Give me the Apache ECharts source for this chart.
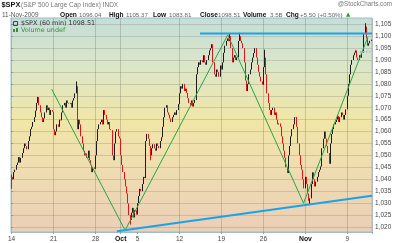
<!DOCTYPE html>
<html><head><meta charset="utf-8">
<script src="https://cdn.jsdelivr.net/npm/echarts@6/dist/echarts.min.js"></script>
<style>html,body{margin:0;padding:0;background:#fff}#c{width:400px;height:243px}</style>
</head><body><div id="c"></div>
<script>
// ---- data ----
const tradingDays = ['Sep 14','Sep 15','Sep 16','Sep 17','Sep 18','Sep 21','Sep 22','Sep 23','Sep 24','Sep 25',
  'Sep 28','Sep 29','Sep 30','Oct 1','Oct 2','Oct 5','Oct 6','Oct 7','Oct 8','Oct 9','Oct 12','Oct 13','Oct 14',
  'Oct 15','Oct 16','Oct 19','Oct 20','Oct 21','Oct 22','Oct 23','Oct 26','Oct 27','Oct 28','Oct 29','Oct 30',
  'Nov 2','Nov 3','Nov 4','Nov 5','Nov 6','Nov 9','Nov 10','Nov 11'];
const hours = ['09:30','10:30','11:30','12:30','13:30','14:30','15:30'];
const firstOpen = 1042;
const hourlyCloses = [
  [1041,1040,1043,1044,1046,1047,1049.3],
  [1047,1049,1051,1053,1055,1054,1052.6],
  [1056,1058,1061,1062,1064,1066,1068.8],
  [1072,1074.5,1071,1068,1066,1064,1065.5],
  [1068,1071,1069,1070,1067,1069,1068.3],
  [1061,1058.5,1060,1063,1062,1065,1064.7],
  [1068,1071,1072,1070,1073,1072,1071.7],
  [1072,1070,1073,1074,1076,1079,1061],
  [1065,1063,1058,1055,1052,1050,1050.8],
  [1049,1052,1048,1046,1043,1045,1044.4],
  [1050,1056,1061,1063,1064,1065,1063],
  [1069,1067,1065,1063,1064,1061,1060.6],
  [1050,1048,1055,1060,1061,1058,1057.1],
  [1050,1046,1043,1040,1037,1034,1029.9],
  [1025,1023,1026,1028,1024,1027,1025.2],
  [1030,1033,1036,1035,1038,1041,1040.5],
  [1056,1059,1057,1054,1050,1053,1054.7],
  [1053,1052,1055,1054,1053,1056,1057.6],
  [1062,1066,1070,1071,1068,1067,1065.5],
  [1064,1066,1067,1068,1067,1069,1071.5],
  [1076,1079,1078,1080,1077,1078,1076.2],
  [1074,1072,1071,1073,1070.5,1072,1073.2],
  [1084,1087,1089,1088,1090,1089,1092],
  [1089,1088,1090,1092,1094,1095,1096.6],
  [1089,1084,1083,1086,1085,1083,1087.7],
  [1086,1089,1093,1096,1098,1099,1097.9],
  [1100,1095,1089,1091,1092,1090,1091.1],
  [1098,1100,1098,1097,1095,1089,1081.4],
  [1077,1080,1084,1086,1089,1091,1092.9],
  [1095,1091,1088,1085,1083,1081,1079.6],
  [1087,1091,1084,1076,1072,1069,1067],
  [1069,1070,1067,1068,1065,1063,1063.4],
  [1062,1058,1055,1052,1049,1045,1042.6],
  [1050,1054,1058,1061,1063,1066,1066.1],
  [1062,1055,1050,1046,1044,1040,1036.2],
  [1041,1038,1034,1031,1032,1038,1042.9],
  [1040,1037,1039,1041,1043,1044,1045.4],
  [1053,1057,1060,1057,1054,1051,1046.5],
  [1055,1059,1061,1063,1064,1065,1066.6],
  [1064,1066,1068,1067,1065,1067,1069.3],
  [1075,1080,1084,1088,1090,1092,1093.1],
  [1094,1091,1090,1092,1091,1093,1093],
  [1101,1104,1099,1096,1097,1098,1098.5]
];
const spikeHighs = [[54,1081],[182,1101],[190,1101.4],[211,1094.3],[295,1105.4]];
const spikeLows = [[0,1036],[99,1021],[116,1048],[249,1029.5]];
const xTickLabels = {'Sep 14':'14','Sep 21':'21','Sep 28':'28','Oct 1':'Oct','Oct 5':'5','Oct 12':'12',
  'Oct 19':'19','Oct 26':'26','Nov 2':'Nov','Nov 9':'9'};
const gridDays = ['Sep 21','Sep 28','Oct 1','Oct 12','Oct 19','Oct 26','Nov 2','Nov 9'];
const yTicks = [1020,1025,1030,1035,1040,1045,1050,1055,1060,1065,1070,1075,1080,1085,1090,1095,1100,1105];
// trend lines, x in bar units
const greenTrend = [[33.9,1077.8],[95.1,1018.6],[180.7,1100.5],[243.9,1030],[297.7,1099.8]];
const blueSupport = [[88.4,1018.2],[301,1033.1]];
const blueResistance = [[157.6,1101.1],[301,1101.1]];
const lastPriceMarker = [[291,1093.5],[301,1093.5]];

// ---- build ----
const categories = [];
const candles = [];
let prev = firstOpen;
tradingDays.forEach((d, di) => {
  hours.forEach((h, hi) => {
    categories.push(d + ' ' + h);
    const c = hourlyCloses[di][hi];
    candles.push([prev, c, Math.min(prev, c), Math.max(prev, c)]);
    prev = c;
  });
});
spikeHighs.forEach(([i, v]) => { candles[i][3] = Math.max(candles[i][3], v); });
spikeLows.forEach(([i, v]) => { candles[i][2] = Math.min(candles[i][2], v); });
const nBars = categories.length;
const dayOf = v => v.slice(0, v.lastIndexOf(' '));
const isDayStart = v => v.endsWith(hours[0]);

const chart = echarts.init(document.getElementById('c'), null, {renderer: 'canvas'});
const F = '"Liberation Sans", Arial, sans-serif';
function txt(x, y, text, font, fill, align) {
  return {type: 'text', x: x, y: y, silent: true, z: 100,
    style: {text: text, font: font, fill: fill, align: align || 'left', verticalAlign: 'middle'}};
}
const graphics = [
  txt(1.5, 5, '$SPX', 'bold 7.4px ' + F, '#111'),
  txt(21, 5.5, '(S&P 500 Large Cap Index) INDX', '6.5px ' + F, '#777'),
  txt(392, 4.5, '@StockCharts.com', '6.3px ' + F, '#777', 'right'),
  txt(2, 15, '11-Nov-2009', '6.4px ' + F, '#555'),
  txt(60, 15, 'Open', 'bold 6.6px ' + F, '#111'),
  txt(79, 15, '1096.04', '6.2px ' + F, '#666'),
  txt(109, 15, 'High', 'bold 6.6px ' + F, '#111'),
  txt(126, 15, '1105.37', '6.2px ' + F, '#666'),
  txt(153, 15, 'Low', 'bold 6.6px ' + F, '#111'),
  txt(169, 15, '1083.81', '6.2px ' + F, '#666'),
  txt(200, 15, 'Close', 'bold 6.6px ' + F, '#111'),
  txt(218, 15, '1098.51', '6.2px ' + F, '#666'),
  txt(243, 15, 'Volume', 'bold 6.6px ' + F, '#111'),
  txt(270, 15, '3.5B', '6.2px ' + F, '#666'),
  txt(286, 15, 'Chg', 'bold 6.6px ' + F, '#111'),
  txt(300, 15, '+5.50 (+0.50%)', '6.2px ' + F, '#666'),
  txt(346, 15, '\u25B2', '5.5px "DejaVu Sans"', '#2a9a2a'),
  txt(21, 23.5, '$SPX (60 min) 1098.51', '6.4px "DejaVu Sans"', '#333'),
  txt(21, 30.5, 'Volume undef', '6.4px "DejaVu Sans"', '#3c8c3c'),
  {type: 'rect', silent: true, z: 100, shape: {x: 13.5, y: 21.5, width: 4, height: 4}, style: {fill: 'none', stroke: '#444', lineWidth: 1}},
  {type: 'rect', silent: true, z: 100, shape: {x: 13, y: 29, width: 2, height: 3}, style: {fill: '#3c8c3c'}},
  {type: 'rect', silent: true, z: 100, shape: {x: 16, y: 28, width: 2, height: 4}, style: {fill: '#3c8c3c'}}
];

chart.setOption({
  animation: false,
  backgroundColor: '#fff',
  graphic: graphics,
  grid: {left: 11, right: 28, top: 18, bottom: 11, show: true,
    backgroundColor: new echarts.graphic.LinearGradient(0, 0, 0, 1, [
      {offset: 0, color: '#c4ded8'}, {offset: 0.22, color: '#dbe6c8'},
      {offset: 0.48, color: '#f1e6a8'}, {offset: 0.72, color: '#efdcb2'}, {offset: 1, color: '#ebcfb6'}]),
    borderColor: '#9fbccc', borderWidth: 1},
  xAxis: [{
    type: 'category', data: categories, boundaryGap: true,
    axisLine: {lineStyle: {color: '#9fbccc'}},
    axisTick: {show: true, length: 2, interval: (i, v) => isDayStart(v) && xTickLabels[dayOf(v)] !== undefined,
      lineStyle: {color: '#8aa'}},
    axisLabel: {interval: (i, v) => isDayStart(v) && xTickLabels[dayOf(v)] !== undefined,
      formatter: v => { const l = xTickLabels[dayOf(v)]; return (l === 'Oct' || l === 'Nov') ? '{b|' + l + '}' : l; },
      fontSize: 6.5, fontFamily: F, color: '#444', margin: 4,
      rich: {b: {fontWeight: 'bold', fontSize: 6.8, fontFamily: F, color: '#111'}}},
    splitLine: {show: true, interval: (i, v) => isDayStart(v) && gridDays.includes(dayOf(v)),
      lineStyle: {color: 'rgba(110,110,100,0.3)', width: 1}}
  }, {
    type: 'value', min: 0, max: nBars, show: false
  }],
  yAxis: {
    type: 'value', position: 'right', min: 1017.9, max: 1107.6,
    axisLine: {show: true, lineStyle: {color: '#9fbccc'}},
    axisTick: {show: true, length: 2, customValues: yTicks, lineStyle: {color: '#8aa'}},
    axisLabel: {customValues: yTicks, fontSize: 6.5, fontFamily: F, color: '#444', margin: 3},
    splitLine: {show: false}
  },
  series: [
    {type: 'line', xAxisIndex: 1, data: [], z: 1, silent: true,
      markLine: {silent: true, symbol: ['none', 'none'], label: {show: false},
        lineStyle: {color: 'rgba(110,110,100,0.25)', width: 1, type: 'solid'},
        data: yTicks.map(v => ({yAxis: v}))}},
    {type: 'candlestick', xAxisIndex: 0, data: candles, barWidth: 0.6, z: 2,
      itemStyle: {color: '#1a1a1a', color0: '#e01414', borderColor: '#1a1a1a', borderColor0: '#e01414',
        borderColorDoji: '#1a1a1a', borderWidth: 1}},
    {type: 'line', xAxisIndex: 1, data: greenTrend, symbol: 'none', z: 4, silent: true,
      lineStyle: {color: '#22a845', width: 1}},
    {type: 'line', xAxisIndex: 1, data: blueSupport, symbol: 'none', z: 5, silent: true,
      lineStyle: {color: '#1aa2ea', width: 2}},
    {type: 'line', xAxisIndex: 1, data: blueResistance, symbol: 'none', z: 5, silent: true,
      lineStyle: {color: '#1aa2ea', width: 2}},
    {type: 'line', xAxisIndex: 1, data: lastPriceMarker, symbol: 'none', z: 5, silent: true,
      lineStyle: {color: '#a3aef0', width: 1.5, type: 'dotted'}}
  ]
});
</script></body></html>
